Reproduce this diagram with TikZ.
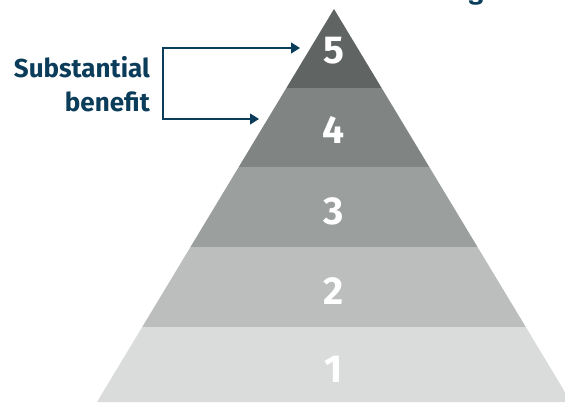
\documentclass[tikz,border=0pt]{standalone}
\usepackage{fontspec}
\setmainfont{Fira Sans}
\usetikzlibrary{arrows.meta}
\usetikzlibrary{positioning}

\definecolor{navy}{HTML}{0B3D5B}
\definecolor{lvlfive}{HTML}{606462}
\definecolor{lvlfour}{HTML}{808482}
\definecolor{lvlthree}{HTML}{9B9F9D}
\definecolor{lvltwo}{HTML}{BCBEBD}
\definecolor{lvlone}{HTML}{DADCDB}

\tikzset{
    levelnum/.style={text=white, font=\fontsize{39}{39}\selectfont\bfseries},
    bracket/.style={navy, line width=1.1pt, {Triangle[length=9pt,width=11pt]}-{Triangle[length=9pt,width=11pt]}},
}

\begin{document}
\begin{tikzpicture}[x=1pt, y=-1pt]
        \useasboundingbox (0, 0) rectangle (565, 403);
        \clip (0, 0) rectangle (565, 403);

        % pyramid, cut into five bands
        \begin{scope}
            \clip (334, 9) -- (97, 402) -- (571, 402) -- cycle;
            \fill[lvlfive] (90, 0) rectangle (580, 88);
            \fill[lvlfour] (90, 88) rectangle (580, 167);
            \fill[lvlthree] (90, 167) rectangle (580, 247);
            \fill[lvltwo] (90, 247) rectangle (580, 327);
            \fill[lvlone] (90, 327) rectangle (580, 403);
        \end{scope}

        \node[levelnum] (n5) at (334, 51) {5};
        \node[levelnum] (n4) at (334, 130) {4};
        \node[levelnum] (n3) at (334, 211) {3};
        \node[levelnum] (n2) at (334, 291) {2};
        \node[levelnum] (n1) at (334, 369) {1};

        % heading, mostly outside the picture
        \node[anchor=base, text=navy, font=\fontsize{26}{26}\selectfont\bfseries, inner sep=0] (head) at (476, 0) {g};

        % label and bracket
        \node[anchor=east, align=right, text=navy, inner sep=0,
              font=\fontsize{26}{34}\selectfont\bfseries] (lbl) at (150, 84) {Substantial\\benefit};

        \coordinate (ctop) at (163, 48);
        \coordinate (cbot) at (163, 119);
        \coordinate (tip5) at (300, 48);
        \coordinate (tip4) at (259, 119);
        \draw[bracket] (tip5) -- (ctop) -- (cbot) -- (tip4);
\end{tikzpicture}
\end{document}
